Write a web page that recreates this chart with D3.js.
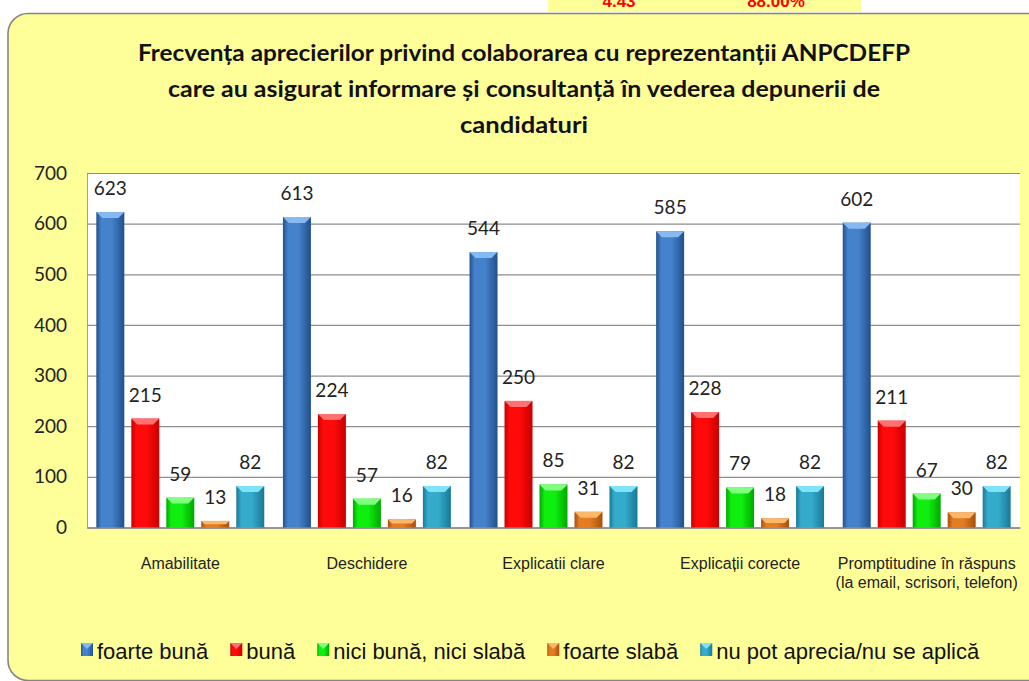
<!DOCTYPE html>
<html>
<head>
<meta charset="utf-8">
<script src="https://cdn.jsdelivr.net/npm/d3@7"></script>
<style>
  body { margin: 0; background: #fff; }
  svg { display: block; }
</style>
</head>
<body>
<div id="chart"></div>
<script>
// data
const categories = ["Amabilitate", "Deschidere", "Explicatii clare", "Explicații corecte",
  "Promptitudine în răspuns\n(la email, scrisori, telefon)"];
const seriesNames = ["foarte bună", "bună", "nici bună, nici slabă", "foarte slabă", "nu pot aprecia/nu se aplică"];
const foarteBuna = [623, 613, 544, 585, 602];
const buna = [215, 224, 250, 228, 211];
const niciBunaNiciSlaba = [59, 57, 85, 79, 67];
const foarteSlaba = [13, 16, 31, 18, 30];
const nuPotAprecia = [82, 82, 82, 82, 82];
const yTicks = [0, 100, 200, 300, 400, 500, 600, 700];
const titleLines = ["Frecvența aprecierilor privind colaborarea cu reprezentanții ANPCDEFP",
  "care au asigurat informare și consultanță în vederea depunerii de",
  "candidaturi"];
const topNumbers = ["4.43", "88.00%"];

const seriesValues = [foarteBuna, buna, niciBunaNiciSlaba, foarteSlaba, nuPotAprecia];

// colours: [edge dark, middle, bevel light]
const palette = [
  ["#22508a", "#4582cc", "#86b8f2"],
  ["#c80000", "#ff0a0a", "#ff7070"],
  ["#00a800", "#10ee10", "#80ff80"],
  ["#a8500c", "#e47c22", "#fbb868"],
  ["#1a7896", "#35abcb", "#80e2f8"]
];

const W = 1029, H = 681;
const plot = {left: 87, right: 1020, top: 173, bottom: 527.5};

const svg = d3.select("#chart").append("svg")
  .attr("width", W).attr("height", H);

const defs = svg.append("defs");
palette.forEach((c, i) => {
  const g = defs.append("linearGradient").attr("id", "grad" + i)
    .attr("x1", "0%").attr("x2", "100%").attr("y1", "0%").attr("y2", "0%");
  g.append("stop").attr("offset", "0%").attr("stop-color", c[0]);
  g.append("stop").attr("offset", "18%").attr("stop-color", c[1]);
  g.append("stop").attr("offset", "55%").attr("stop-color", c[1]);
  g.append("stop").attr("offset", "100%").attr("stop-color", c[0]);
});

// little box cut off at the top (its text is cut in the original too)
svg.append("rect").attr("x", 548).attr("y", -5).attr("width", 313).attr("height", 17)
  .attr("fill", "#ffff99");
svg.selectAll("text.topnum")
  .data(topNumbers)
  .join("text")
  .attr("class", "topnum")
  .attr("x", (d, i) => i === 0 ? 619 : 776)
  .attr("y", 7)
  .attr("text-anchor", "middle")
  .attr("font-family", "Liberation Sans, Arial, sans-serif")
  .attr("font-weight", "bold")
  .attr("font-size", 17)
  .attr("fill", "#ff0000")
  .text(d => d);

// main rounded panel
svg.append("rect")
  .attr("x", 8).attr("y", 13.5).attr("width", 1060).attr("height", 667)
  .attr("rx", 20).attr("ry", 20)
  .attr("fill", "#ffff99")
  .attr("stroke", "#858585").attr("stroke-width", 1.6);

// title
svg.selectAll("text.title")
  .data(titleLines)
  .join("text")
  .attr("class", "title")
  .attr("x", 524)
  .attr("y", (d, i) => 61 + i * 36)
  .attr("text-anchor", "middle")
  .attr("font-family", "Lato, sans-serif")
  .attr("font-weight", "bold")
  .attr("font-size", 23)
  .attr("fill", "#111")
  .attr("textLength", (d, i) => [772, 712, 128][i])
  .attr("lengthAdjust", "spacingAndGlyphs")
  .text(d => d);

// scales
const x0 = d3.scaleBand().domain(categories).range([plot.left, plot.right])
  .paddingInner(0.1).paddingOuter(0.05);
const x1 = d3.scaleBand().domain(d3.range(seriesNames.length)).range([0, x0.bandwidth()])
  .paddingInner(0.2);
const y = d3.scaleLinear().domain([0, 700]).range([plot.bottom, plot.top]);

// plot area
svg.append("rect")
  .attr("x", plot.left).attr("y", plot.top)
  .attr("width", plot.right - plot.left).attr("height", plot.bottom - plot.top)
  .attr("fill", "#ffffff");

const yAxis = svg.append("g")
  .attr("transform", `translate(${plot.left},0)`)
  .call(d3.axisLeft(y).tickValues(yTicks).tickSize(-(plot.right - plot.left)).tickPadding(20));
yAxis.select(".domain").attr("stroke", "#a0a0a0");
yAxis.selectAll(".tick line").attr("stroke", "#8e8e8e").attr("stroke-width", 1.2);
yAxis.selectAll(".tick text")
  .attr("font-family", "Lato, sans-serif")
  .attr("font-size", 19)
  .attr("fill", "#222");

const xAxis = svg.append("g")
  .attr("transform", `translate(0,${plot.bottom})`)
  .call(d3.axisBottom(x0).tickSize(0).tickFormat(""));
xAxis.select(".domain").attr("stroke", "#8e8e8e").attr("stroke-width", 1.3);

// category labels (can be two lines)
const catLabels = svg.append("g").selectAll("text")
  .data(categories)
  .join("text")
  .attr("x", d => x0(d) + x0.bandwidth() / 2)
  .attr("y", 569)
  .attr("text-anchor", "middle")
  .attr("font-family", "Liberation Sans, Arial, sans-serif")
  .attr("font-size", 16)
  .attr("fill", "#222");
catLabels.selectAll("tspan")
  .data(d => d.split("\n").map(t => ({t, c: d})))
  .join("tspan")
  .attr("x", d => x0(d.c) + x0.bandwidth() / 2)
  .attr("dy", (d, i) => i === 0 ? 0 : 19)
  .text(d => d.t);

// bars
function bevelBar(g, x, yTop, w, h, i) {
  const b = Math.min(6, h / 2, w / 2);
  g.append("rect")
    .attr("x", x).attr("y", yTop).attr("width", w).attr("height", h)
    .attr("fill", `url(#grad${i})`);
  g.append("polygon")
    .attr("points", [[x, yTop], [x + w, yTop], [x + w - b, yTop + b], [x + b, yTop + b]].join(" "))
    .attr("fill", palette[i][2]);
}

const groups = svg.append("g").selectAll("g")
  .data(categories)
  .join("g")
  .attr("transform", d => `translate(${x0(d)},0)`);

groups.each(function(cat, ci) {
  const g = d3.select(this);
  seriesValues.forEach((vals, si) => {
    const v = vals[ci];
    const bx = x1(si);
    bevelBar(g, bx, y(v), x1.bandwidth(), plot.bottom - y(v), si);
    g.append("text")
      .attr("x", bx + x1.bandwidth() / 2)
      .attr("y", y(v) - 17)
      .attr("text-anchor", "middle")
      .attr("font-family", "Lato, sans-serif")
      .attr("font-size", 19)
      .attr("fill", "#222")
      .text(v);
  });
});

// legend
const legend = svg.append("g");
let lx = 81;
seriesNames.forEach((name, i) => {
  bevelBar(legend, lx, 643, 12, 13, i);
  const t = legend.append("text")
    .attr("x", lx + 16)
    .attr("y", 659)
    .attr("font-family", "Liberation Sans, Arial, sans-serif")
    .attr("font-size", 22)
    .attr("fill", "#111")
    .text(name);
  lx += 16 + t.node().getComputedTextLength() + 22;
});
</script>
</body>
</html>
